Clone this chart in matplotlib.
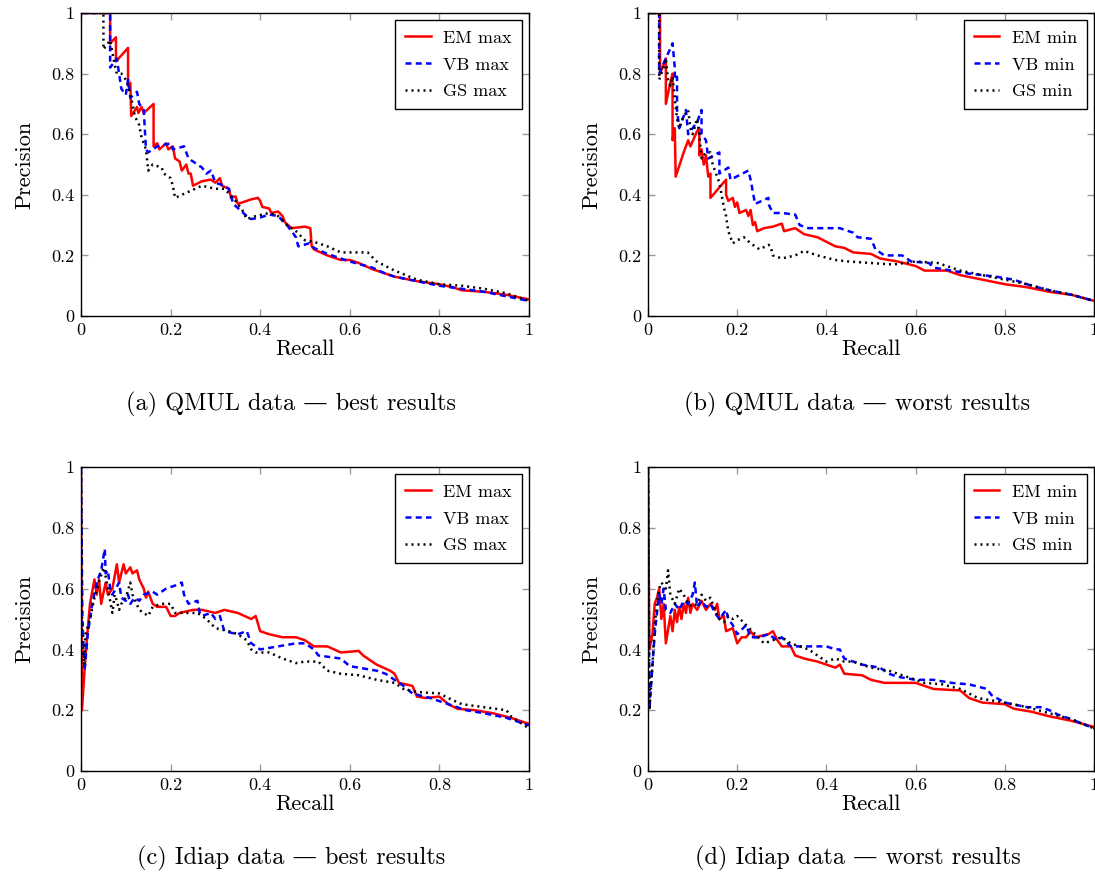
import numpy as np
import matplotlib
matplotlib.use("Agg")
import matplotlib.pyplot as plt

# precision/recall curves, as (recall, precision) pairs

# (a) QMUL data, best runs
qmul_em_max = [(0, 1), (0.065, 1), (0.065, 0.90), (0.078, 0.92), (0.078, 0.84), (0.105, 0.885),
               (0.105, 0.76), (0.11, 0.77), (0.112, 0.66), (0.125, 0.69), (0.128, 0.67), (0.135, 0.69),
               (0.14, 0.67), (0.162, 0.70), (0.162, 0.56), (0.17, 0.57), (0.175, 0.55), (0.19, 0.57),
               (0.195, 0.55), (0.205, 0.56), (0.21, 0.52), (0.22, 0.51), (0.225, 0.48), (0.235, 0.50),
               (0.24, 0.47), (0.245, 0.47), (0.25, 0.43), (0.27, 0.445), (0.29, 0.45), (0.3, 0.44),
               (0.31, 0.455), (0.315, 0.43), (0.33, 0.42), (0.335, 0.39), (0.345, 0.395), (0.35, 0.37),
               (0.38, 0.385), (0.395, 0.39), (0.4, 0.38), (0.405, 0.36), (0.42, 0.355), (0.425, 0.34),
               (0.44, 0.345), (0.45, 0.33), (0.455, 0.31), (0.47, 0.29), (0.5, 0.295), (0.512, 0.29),
               (0.515, 0.23), (0.52, 0.22), (0.55, 0.20), (0.58, 0.185), (0.6, 0.185), (0.62, 0.175),
               (0.65, 0.155), (0.7, 0.13), (0.75, 0.115), (0.8, 0.105), (0.83, 0.095), (0.85, 0.085),
               (0.9, 0.08), (0.95, 0.07), (1.0, 0.055)]
qmul_vb_max = [(0, 1), (0.065, 1), (0.065, 0.82), (0.08, 0.85), (0.09, 0.75), (0.1, 0.73), (0.105, 0.78),
               (0.11, 0.72), (0.125, 0.74), (0.13, 0.70), (0.14, 0.68), (0.145, 0.55), (0.15, 0.54),
               (0.17, 0.56), (0.2, 0.57), (0.205, 0.55), (0.23, 0.56), (0.24, 0.52), (0.27, 0.49),
               (0.28, 0.47), (0.29, 0.48), (0.3, 0.44), (0.32, 0.43), (0.33, 0.42), (0.34, 0.37),
               (0.355, 0.35), (0.37, 0.33), (0.38, 0.32), (0.4, 0.325), (0.42, 0.335), (0.44, 0.33),
               (0.46, 0.30), (0.48, 0.26), (0.485, 0.23), (0.51, 0.24), (0.52, 0.225), (0.55, 0.205),
               (0.58, 0.19), (0.6, 0.18), (0.65, 0.16), (0.68, 0.14), (0.7, 0.13), (0.75, 0.115),
               (0.8, 0.10), (0.85, 0.09), (0.9, 0.08), (0.95, 0.065), (1, 0.05)]
qmul_gs_max = [(0, 1), (0.05, 1), (0.05, 0.88), (0.065, 0.91), (0.075, 0.83), (0.08, 0.8), (0.09, 0.8),
               (0.1, 0.78), (0.105, 0.76), (0.115, 0.70), (0.12, 0.66), (0.13, 0.63), (0.135, 0.59),
               (0.145, 0.55), (0.15, 0.48), (0.16, 0.5), (0.18, 0.49), (0.185, 0.47), (0.2, 0.455),
               (0.205, 0.43), (0.21, 0.39), (0.225, 0.40), (0.24, 0.41), (0.27, 0.43), (0.3, 0.42),
               (0.32, 0.42), (0.34, 0.39), (0.36, 0.35), (0.37, 0.32), (0.39, 0.33), (0.42, 0.34),
               (0.44, 0.33), (0.46, 0.3), (0.48, 0.28), (0.5, 0.25), (0.52, 0.245), (0.55, 0.23),
               (0.58, 0.21), (0.62, 0.21), (0.64, 0.21), (0.66, 0.18), (0.7, 0.15), (0.75, 0.12),
               (0.8, 0.105), (0.85, 0.1), (0.9, 0.09), (0.95, 0.075), (1, 0.05)]

# (b) QMUL data, worst runs
qmul_em_min = [(0, 1), (0.027, 1), (0.027, 0.80), (0.04, 0.85), (0.04, 0.70), (0.05, 0.77), (0.055, 0.80),
               (0.055, 0.58), (0.06, 0.62), (0.062, 0.46), (0.08, 0.54), (0.09, 0.58), (0.095, 0.56),
               (0.11, 0.61), (0.115, 0.62), (0.115, 0.53), (0.12, 0.55), (0.125, 0.50), (0.13, 0.53),
               (0.135, 0.46), (0.14, 0.47), (0.14, 0.39), (0.175, 0.45), (0.175, 0.40), (0.18, 0.38),
               (0.19, 0.39), (0.195, 0.36), (0.2, 0.375), (0.205, 0.34), (0.22, 0.35), (0.225, 0.33),
               (0.23, 0.35), (0.235, 0.30), (0.24, 0.31), (0.245, 0.28), (0.26, 0.29), (0.28, 0.295),
               (0.3, 0.305), (0.305, 0.28), (0.33, 0.29), (0.335, 0.285), (0.35, 0.27), (0.38, 0.26),
               (0.4, 0.245), (0.42, 0.23), (0.44, 0.225), (0.46, 0.21), (0.5, 0.205), (0.52, 0.19),
               (0.56, 0.18), (0.6, 0.165), (0.62, 0.15), (0.67, 0.15), (0.7, 0.135), (0.75, 0.12),
               (0.8, 0.105), (0.85, 0.095), (0.9, 0.08), (0.95, 0.07), (1, 0.05)]
qmul_vb_min = [(0, 1), (0.025, 1), (0.025, 0.80), (0.04, 0.85), (0.055, 0.90), (0.06, 0.82), (0.06, 0.78),
               (0.065, 0.79), (0.065, 0.68), (0.07, 0.62), (0.08, 0.66), (0.085, 0.68), (0.09, 0.60),
               (0.11, 0.64), (0.12, 0.68), (0.12, 0.60), (0.13, 0.58), (0.135, 0.52), (0.16, 0.54),
               (0.16, 0.47), (0.18, 0.49), (0.185, 0.45), (0.225, 0.48), (0.23, 0.45), (0.24, 0.37),
               (0.27, 0.39), (0.27, 0.37), (0.28, 0.34), (0.3, 0.34), (0.33, 0.335), (0.34, 0.30),
               (0.36, 0.29), (0.4, 0.29), (0.43, 0.29), (0.46, 0.275), (0.47, 0.26), (0.5, 0.255),
               (0.51, 0.22), (0.53, 0.2), (0.57, 0.2), (0.59, 0.18), (0.63, 0.175), (0.64, 0.16),
               (0.68, 0.15), (0.72, 0.14), (0.78, 0.13), (0.82, 0.12), (0.86, 0.1), (0.9, 0.085),
               (0.95, 0.07), (1, 0.05)]
qmul_gs_min = [(0, 1), (0.025, 1), (0.025, 0.78), (0.035, 0.82), (0.04, 0.85), (0.045, 0.78), (0.05, 0.76),
               (0.055, 0.79), (0.06, 0.72), (0.065, 0.65), (0.07, 0.62), (0.08, 0.66), (0.09, 0.68),
               (0.095, 0.62), (0.1, 0.60), (0.11, 0.65), (0.115, 0.60), (0.12, 0.52), (0.13, 0.54),
               (0.14, 0.54), (0.145, 0.50), (0.155, 0.46), (0.16, 0.44), (0.165, 0.40), (0.17, 0.36),
               (0.175, 0.33), (0.18, 0.28), (0.19, 0.24), (0.2, 0.25), (0.215, 0.26), (0.23, 0.24),
               (0.25, 0.22), (0.27, 0.235), (0.275, 0.23), (0.28, 0.20), (0.3, 0.19), (0.33, 0.2),
               (0.35, 0.215), (0.38, 0.20), (0.42, 0.185), (0.45, 0.18), (0.5, 0.175), (0.55, 0.17),
               (0.6, 0.18), (0.65, 0.175), (0.7, 0.15), (0.75, 0.135), (0.8, 0.12), (0.85, 0.105),
               (0.9, 0.085), (0.95, 0.07), (1, 0.05)]

# (c) Idiap data, best runs
idiap_em_max = [(0, 1), (0.002, 0.2), (0.01, 0.38), (0.02, 0.55), (0.03, 0.63), (0.035, 0.58), (0.04, 0.63),
                (0.045, 0.55), (0.055, 0.62), (0.06, 0.58), (0.07, 0.60), (0.08, 0.68), (0.085, 0.62),
                (0.095, 0.68), (0.1, 0.65), (0.11, 0.67), (0.115, 0.65), (0.125, 0.66), (0.13, 0.63),
                (0.14, 0.6), (0.145, 0.57), (0.15, 0.59), (0.16, 0.55), (0.17, 0.54), (0.19, 0.54),
                (0.2, 0.51), (0.21, 0.51), (0.22, 0.52), (0.25, 0.53), (0.27, 0.53), (0.3, 0.52),
                (0.32, 0.53), (0.35, 0.52), (0.38, 0.50), (0.39, 0.51), (0.4, 0.46), (0.42, 0.45),
                (0.45, 0.44), (0.48, 0.44), (0.5, 0.43), (0.52, 0.41), (0.55, 0.41), (0.58, 0.39),
                (0.62, 0.395), (0.63, 0.38), (0.66, 0.35), (0.69, 0.33), (0.7, 0.32), (0.71, 0.29),
                (0.74, 0.28), (0.75, 0.245), (0.77, 0.24), (0.8, 0.245), (0.82, 0.22), (0.84, 0.205),
                (0.88, 0.2), (0.92, 0.19), (0.96, 0.175), (1, 0.155)]
idiap_vb_max = [(0, 1), (0.003, 0.5), (0.008, 0.33), (0.015, 0.45), (0.025, 0.55), (0.035, 0.62),
                (0.045, 0.66), (0.053, 0.73), (0.055, 0.65), (0.06, 0.66), (0.065, 0.60), (0.07, 0.58),
                (0.085, 0.62), (0.09, 0.57), (0.1, 0.56), (0.105, 0.58), (0.11, 0.55), (0.12, 0.57),
                (0.13, 0.56), (0.14, 0.58), (0.16, 0.59), (0.17, 0.58), (0.19, 0.6), (0.21, 0.61),
                (0.225, 0.62), (0.23, 0.58), (0.24, 0.55), (0.26, 0.56), (0.265, 0.52), (0.27, 0.51),
                (0.29, 0.52), (0.3, 0.5), (0.31, 0.51), (0.32, 0.46), (0.35, 0.45), (0.37, 0.46),
                (0.38, 0.42), (0.4, 0.40), (0.44, 0.41), (0.48, 0.42), (0.5, 0.42), (0.52, 0.40),
                (0.53, 0.38), (0.58, 0.37), (0.6, 0.345), (0.62, 0.34), (0.66, 0.33), (0.68, 0.32),
                (0.7, 0.30), (0.72, 0.28), (0.74, 0.255), (0.78, 0.24), (0.8, 0.23), (0.82, 0.22),
                (0.86, 0.2), (0.9, 0.19), (0.95, 0.175), (1, 0.15)]
idiap_gs_max = [(0, 1), (0.002, 0.5), (0.006, 0.35), (0.01, 0.45), (0.02, 0.5), (0.03, 0.57), (0.04, 0.62),
                (0.05, 0.67), (0.055, 0.64), (0.06, 0.6), (0.065, 0.56), (0.07, 0.52), (0.075, 0.58),
                (0.08, 0.56), (0.085, 0.53), (0.09, 0.55), (0.1, 0.57), (0.11, 0.62), (0.115, 0.58),
                (0.13, 0.53), (0.14, 0.52), (0.15, 0.51), (0.16, 0.54), (0.18, 0.55), (0.2, 0.55),
                (0.21, 0.52), (0.23, 0.52), (0.26, 0.52), (0.28, 0.5), (0.3, 0.47), (0.33, 0.46),
                (0.35, 0.45), (0.36, 0.44), (0.37, 0.43), (0.38, 0.4), (0.39, 0.39), (0.42, 0.39),
                (0.45, 0.37), (0.48, 0.355), (0.5, 0.36), (0.53, 0.36), (0.55, 0.33), (0.58, 0.32),
                (0.62, 0.315), (0.66, 0.30), (0.7, 0.29), (0.72, 0.27), (0.75, 0.26), (0.8, 0.255),
                (0.82, 0.24), (0.85, 0.22), (0.9, 0.21), (0.95, 0.2), (0.96, 0.18), (1, 0.14)]

# (d) Idiap data, worst runs
idiap_em_min = [(0, 1), (0.003, 0.4), (0.01, 0.45), (0.015, 0.55), (0.02, 0.57), (0.025, 0.60),
                (0.03, 0.50), (0.035, 0.55), (0.04, 0.42), (0.05, 0.51), (0.055, 0.46), (0.06, 0.53),
                (0.065, 0.49), (0.07, 0.54), (0.075, 0.50), (0.08, 0.55), (0.085, 0.52), (0.09, 0.57),
                (0.095, 0.52), (0.1, 0.55), (0.11, 0.53), (0.12, 0.56), (0.13, 0.53), (0.14, 0.55),
                (0.15, 0.53), (0.155, 0.55), (0.16, 0.5), (0.17, 0.51), (0.175, 0.46), (0.19, 0.47),
                (0.2, 0.42), (0.21, 0.44), (0.22, 0.44), (0.23, 0.46), (0.24, 0.44), (0.27, 0.45),
                (0.28, 0.46), (0.29, 0.43), (0.3, 0.41), (0.32, 0.41), (0.33, 0.38), (0.35, 0.37),
                (0.38, 0.36), (0.4, 0.35), (0.42, 0.34), (0.43, 0.35), (0.44, 0.32), (0.48, 0.315),
                (0.5, 0.30), (0.53, 0.29), (0.57, 0.29), (0.6, 0.29), (0.62, 0.28), (0.64, 0.27),
                (0.7, 0.265), (0.72, 0.24), (0.75, 0.225), (0.8, 0.22), (0.82, 0.205), (0.86, 0.195),
                (0.9, 0.18), (0.95, 0.165), (1, 0.145)]
idiap_vb_min = [(0, 1), (0.003, 0.2), (0.01, 0.35), (0.015, 0.45), (0.02, 0.52), (0.025, 0.58),
                (0.03, 0.55), (0.035, 0.60), (0.04, 0.53), (0.05, 0.52), (0.06, 0.55), (0.07, 0.53),
                (0.08, 0.56), (0.09, 0.55), (0.1, 0.58), (0.105, 0.62), (0.11, 0.54), (0.12, 0.56),
                (0.13, 0.54), (0.14, 0.55), (0.15, 0.52), (0.16, 0.5), (0.175, 0.53), (0.18, 0.5),
                (0.19, 0.48), (0.2, 0.45), (0.22, 0.48), (0.23, 0.44), (0.25, 0.44), (0.27, 0.45),
                (0.29, 0.43), (0.3, 0.44), (0.32, 0.41), (0.36, 0.41), (0.4, 0.41), (0.42, 0.40),
                (0.43, 0.40), (0.44, 0.37), (0.48, 0.35), (0.52, 0.34), (0.54, 0.32), (0.56, 0.31),
                (0.6, 0.30), (0.64, 0.30), (0.68, 0.29), (0.72, 0.285), (0.76, 0.27), (0.77, 0.25),
                (0.8, 0.225), (0.85, 0.21), (0.88, 0.21), (0.9, 0.2), (0.92, 0.185), (0.95, 0.17),
                (1, 0.14)]
idiap_gs_min = [(0, 1), (0.003, 0.2), (0.01, 0.35), (0.015, 0.48), (0.02, 0.55), (0.025, 0.6),
                (0.03, 0.62), (0.04, 0.60), (0.045, 0.66), (0.05, 0.58), (0.06, 0.55), (0.07, 0.6),
                (0.08, 0.58), (0.09, 0.55), (0.1, 0.54), (0.11, 0.55), (0.12, 0.58), (0.13, 0.56),
                (0.14, 0.57), (0.15, 0.53), (0.16, 0.5), (0.17, 0.49), (0.18, 0.51), (0.19, 0.5),
                (0.2, 0.51), (0.22, 0.48), (0.24, 0.45), (0.26, 0.42), (0.28, 0.43), (0.3, 0.44),
                (0.32, 0.42), (0.34, 0.41), (0.36, 0.40), (0.38, 0.38), (0.4, 0.36), (0.42, 0.37),
                (0.44, 0.36), (0.46, 0.36), (0.5, 0.34), (0.54, 0.33), (0.58, 0.31), (0.62, 0.29),
                (0.66, 0.285), (0.7, 0.27), (0.74, 0.24), (0.8, 0.225), (0.85, 0.21), (0.9, 0.19),
                (0.95, 0.17), (1, 0.14)]

tick_vals = [0, 0.2, 0.4, 0.6, 0.8, 1]
tick_labels = ["0", "0.2", "0.4", "0.6", "0.8", "1"]

captions = ["(a) QMUL data \u2014 best results", "(b) QMUL data \u2014 worst results",
            "(c) Idiap data \u2014 best results", "(d) Idiap data \u2014 worst results"]

panels = [
    ([qmul_em_max, qmul_vb_max, qmul_gs_max], ["EM max", "VB max", "GS max"]),
    ([qmul_em_min, qmul_vb_min, qmul_gs_min], ["EM min", "VB min", "GS min"]),
    ([idiap_em_max, idiap_vb_max, idiap_gs_max], ["EM max", "VB max", "GS max"]),
    ([idiap_em_min, idiap_vb_min, idiap_gs_min], ["EM min", "VB min", "GS min"]),
]

plt.rcParams["font.family"] = ["cmr10", "DejaVu Serif"]
plt.rcParams["axes.formatter.use_mathtext"] = True

styles = [dict(color="red", ls="-"),
          dict(color="blue", ls=(0, (2.4, 1.7))),
          dict(color="black", ls=(0, (0.8, 1.6)))]

# axes boxes in figure fractions: left, bottom, width, height
boxes = [[0.074, 0.6384, 0.409, 0.3467],
         [0.5918, 0.6384, 0.4073, 0.3467],
         [0.074, 0.1178, 0.409, 0.3479],
         [0.5918, 0.1178, 0.4073, 0.3479]]
caption_pos = [(0.266, 0.537), (0.783, 0.537), (0.266, 0.018), (0.783, 0.018)]

fig = plt.figure(figsize=(10.95, 8.74), dpi=100)

for i, (curves, names) in enumerate(panels):
    ax = fig.add_axes(boxes[i])
    for pts, name, st in zip(curves, names, styles):
        r = [p[0] for p in pts]
        pr = [p[1] for p in pts]
        ax.plot(r, pr, lw=1.8, label=name, **st)
    ax.set_xlim(0, 1)
    ax.set_ylim(0, 1)
    ax.set_xticks(tick_vals, tick_labels)
    ax.set_yticks(tick_vals, tick_labels)
    ax.tick_params(direction="in", top=True, right=True, length=5, width=1,
                   color="#999999", labelsize=13, pad=5)
    for s in ax.spines.values():
        s.set_linewidth(1)
    ax.set_xlabel("Recall", fontsize=16, labelpad=1)
    ax.set_ylabel("Precision", fontsize=16, labelpad=12)
    leg = ax.legend(loc="upper right", fontsize=13, frameon=True, fancybox=False,
                    edgecolor="black", framealpha=1, handlelength=1.4,
                    handletextpad=0.7, borderpad=0.55, borderaxespad=0.4,
                    labelspacing=0.62)
    leg.get_frame().set_linewidth(1)
    fig.text(caption_pos[i][0], caption_pos[i][1], captions[i], ha="center",
             va="center", fontsize=17.5)

fig.savefig("out.png", dpi=100)
